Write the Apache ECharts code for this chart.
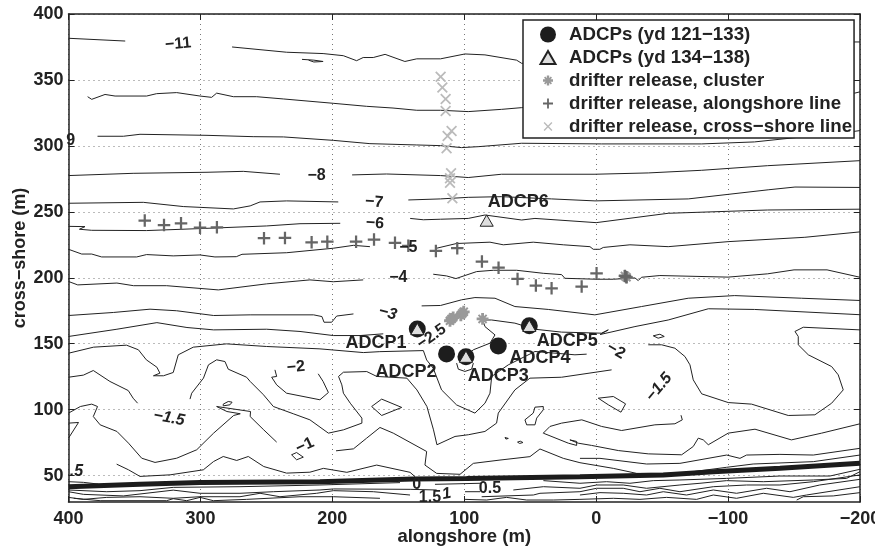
<!DOCTYPE html>
<html>
<head>
<meta charset="utf-8">
<style>
html, body { margin: 0; background: #fff; }
#main { width: 875px; height: 546px; }
</style>
<script src="https://cdn.jsdelivr.net/npm/echarts@6/dist/echarts.min.js"></script>
</head>
<body>
<div id="main"></div>
<script>
// axis ticks
const xTicks = [400, 300, 200, 100, 0, -100, -200];
const yTicks = [50, 100, 150, 200, 250, 300, 350, 400];

// depth contours as [alongshore, cross-shore]
const c11a = [[400,381.6],[357,379.5]];
const c11b = [[276,375],[234.6,371],[207,370],[191.7,368.4],[181.6,364.6],[176.6,367],[169,367],[160,369.4],[145,364],[136,366],[118,366],[99.5,369.7],[84.3,369],[60.3,365],[56.5,362.6],[0,364],[-100,372],[-193,378.8],[-200,378.8]];
const c11c = [[223,365.6],[214,365],[207,364],[214,363.6],[218,365]];
const c10 = [[385.5,337.3],[382.4,335.3],[372.3,339],[364.7,337.8],[340.8,337.8],[333.2,339.6],[318,340.4],[300.3,337.8],[291.5,336.8],[287.7,340],[275,337.3],[257.4,337.3],[237.2,335.6],[199.4,332.3],[174,330],[154,328.7],[136,327],[118,327],[97,326],[71.7,327.7],[56.5,329],[0,334],[-100,337],[-196,340],[-200,341]];
const c9 = [[378,307.3],[358.4,307.3],[345.8,308.8],[295,308],[260,307],[237,306.8],[199.3,304.2],[171.5,301.7],[136,300.7],[118,300.2],[102,298.7],[89.4,299.4],[56.5,302],[-4,301.5],[-80,301.5],[-120,303],[-194,310.8],[-200,311.6]];
const c8a = [[400,277.5],[351,279.2],[295,280],[267.5,280.7],[239.7,278.5]];
const c8b = [[185,278],[159,278.7],[118,277.5],[97,276],[71.7,278.5],[0.9,278.5],[-39.5,279.5],[-80,281.5],[-130,285],[-200,288.8]];
const c7a = [[400,256.5],[343.3,257.2],[313,254],[275,252.2],[262.3,254.5],[254.8,257.5],[234.6,258.3],[195.5,257.5]];
const c7b = [[142.4,259],[118,259.8],[97,261],[71.7,261.5],[33.8,259.8],[0.9,258.3],[-69.8,259.8],[-130.4,266.7],[-150.7,268.8],[-200,268.5]];
const c6a = [[400,239],[387.5,238.8],[391.7,236.8],[382.4,236],[340.8,235.8],[300.3,237.3],[249.8,239.3],[224.5,241],[194,241.3]];
const c6b = [[141,245],[131,244],[118,244.4],[97,245],[84.3,247.6],[56.5,243.8],[46.4,245],[0,241.8],[-54.6,248.9],[-130,251.4],[-200,252]];
const c5a = [[400,221.6],[390,218],[382.4,218],[374.9,215.8],[348.3,215.8],[340.8,217.6],[320.6,216.6],[300.3,217.3],[289,215.8],[272.8,216],[268.5,217.8],[234.6,219],[199.3,222.4],[184,224.6],[171.5,223.6]];
const c5b = [[121,222.4],[105.8,226],[80.5,227],[70.4,225],[47.7,227],[24.9,225],[4.7,223.6],[2.2,221.6],[-2.8,221.6],[-5.4,223],[-25.6,225],[-54.6,223.6],[-100,227.4],[-158.2,230.7],[-200,234.8]];
const c4a = [[400,197.2],[393,194.6],[363.3,196],[350.7,194],[325.6,194],[286.4,190.8],[249.8,195.4],[217,198.4],[199.3,197],[176.6,198.4]];
const c4b = [[123.5,202.7],[113.4,201.4],[106.3,199.4],[90.6,204.7],[78,205.7],[60.3,205.7],[40.1,203.4],[26.2,202.4],[23.7,199.6],[-0.3,198.9],[-13,198.9],[-29.4,199.9],[-31.9,197.9],[-34.4,200.4],[-48.3,201.7],[-100,200.5],[-130,203],[-150,206],[-175,206],[-200,200.4]];
const c3a = [[400,171.4],[366,173.7],[338.2,176.2],[318,175],[290,171.4],[262.3,171.9],[214.2,171.9],[207.9,170.6],[206.3,166.3],[200.5,166.3],[196.7,171],[184,172.6]];
const c3b = [[132.3,178.7],[118,179],[102,183.3],[91.9,185],[76.7,184.5],[61.6,178.2],[36.3,176],[1,171.9],[-34.4,178.2],[-69.8,184.5],[-105,186.5],[-155.7,184.5],[-200,182.8]];
const c25a = [[400,155.5],[363.3,161],[333,166],[310.2,162.3],[290,160.5],[249.8,161],[224.5,159.3],[199.3,156.2],[179,156.2],[161.4,157.5]];
const c25b = [[99.5,140.3],[93.1,145.4],[80.5,150.4],[76.7,156.7],[84.3,163],[86,168],[79.2,168],[61.6,165.6],[46.4,161],[26.2,158.8],[-4,158],[-9.2,160.5],[-3,157],[-12,159],[-29.4,163],[-54.6,168],[-85,176.5],[-120,176],[-200,172]];
const adcp3Loop = [[105.8,135.3],[104.5,130.7],[99.5,129],[94.4,130.7],[93.1,135.3]];
const c2a = [[400,142.8],[381,147.4],[356,148.9],[347,145.4],[341,137.8],[333,132.2],[330.7,127.7],[335.6,125.7],[328,125.7],[320.6,128.2],[316.8,141.6],[305.4,147.4],[280.2,149.9],[249.8,147.9],[209.4,146.1],[176.5,143.3],[164,144],[131,144.8],[128.5,137.7],[123.5,131.4],[117.2,115],[105.8,103.6],[91.9,97.4],[84.3,104.9],[80.5,112.5],[79.2,125.2],[66.6,134],[46.4,144.1],[16.1,141.6],[7.2,142.1]];
const c2b = [[400,124.6],[388.7,126.2],[381.2,129.7],[368.6,121.4],[354.7,114.5],[351,108.7],[347.6,104.9]];
const c2c = [[307.9,108],[306.6,112.5],[297.7,123.9],[293.9,134],[287.7,137.8],[281.4,136.5],[278.9,130.7],[265,124.6],[262.3,121.4],[252.2,111.3],[244.7,102.4],[229.6,96.9],[217,92.3],[203,82.2],[191.6,84.7],[177.6,89.8],[177.6,93.6],[186.4,104.9],[191.6,112.5],[192.8,118.8],[195.3,125.2],[191.6,128.4],[173.9,128.9],[166.3,125.2],[143.5,123.9],[135.9,115],[128.3,102.4],[123.3,84.7],[120.7,73.4],[107,79.7],[96.9,81],[84.3,83.5],[75.5,89.8],[74.2,97.4],[61.6,115],[50.2,123.9],[26.2,124.6],[-11.7,130.2]];
const c2d = [[243.5,130.2],[242.2,125.2],[246,124.6],[242.2,118.8],[234.7,112.5],[209.4,107.5],[203,113],[207,121.4],[210.7,127.2]];
const island1 = [[170.2,102.4],[162.6,108],[147.4,101.7],[162.6,95.6],[170.2,102.4]];
const edgeLoop = [[400,89.8],[392.4,90.3],[400,78.4]];
const c15a = [[400,97.4],[391,102.4],[382.4,104.2],[378,102.4],[381.2,94.8],[376,88.5],[363.3,83.5],[354.5,74.6],[344.5,63.2],[334.4,60],[318,63.2],[302.8,69.6],[290,82.2],[274.8,95.6],[269.8,96.9],[279.9,98.6],[287.7,102.4],[262,98.6],[262.3,94.8],[252,84.7],[242.2,75.4]];
const loop2 = [[282.7,104.2],[278.9,106.2],[276,105.7],[277.6,103.7],[282.7,102.9],[282.7,104.2]];
const loop3 = [[230.9,65.8],[227.1,67.5],[222,64],[227.1,62],[230.9,65.8]];
const c15b = [[197.2,68.8],[184,70.3],[174,78.4],[163.9,86.5],[153.8,82.2],[128.5,68.3],[129.8,58],[120.9,51.7],[103.2,51],[93.1,59.3],[72.9,61.8],[50.2,64.4],[42.6,70.2],[24.9,63.1],[12.3,59.8],[-13,55.5],[-30.7,51.7],[-63.5,51.7],[-98.9,56.3],[-119,58.8],[-164.6,60.6],[-200,65.6]];
const c1a = [[363.5,58.7],[354.5,54.4],[345.8,49.4],[323,50.6],[297.8,54.4],[290,60.7],[282.7,64.5],[272.5,61.5],[263.7,64.5],[252,56.9],[234.7,51.9],[217,52.6],[206.8,55.5],[189,52.5],[166.4,58],[141.1,52.5],[137.3,49.2]];
const c1b = [[-64.3,95.8],[-65.3,92.3],[-59.7,89.3],[-44.5,88.5],[-19.3,84.2],[-4.1,87.3],[10.9,92.3],[26.2,89.8],[35,87.3],[40.1,82.2],[21.1,74.6],[14.8,72.9],[14.8,75.9],[19.9,77.1],[13.6,74.6],[3.5,72.9],[-16.8,69],[-39.5,66.5],[-64.8,65.8],[-73.6,72.1],[-77.4,78.4],[-81.2,77.1],[-85,73.4],[-100.1,82.2],[-120.4,85.2],[-148,77.1],[-170.9,82.2],[-200,89.3]];
const c1c = [[12.3,63.1],[-2.9,63.1],[-38.2,58.8],[-63.5,59.3],[-98.9,65.6],[-109,63.1],[-114,65.6],[-139.3,66.1],[-164.6,65.6],[-200,70.7]];
const c2e = [[-39.5,149.2],[-49.6,149.2],[-59.7,146.6],[-67.3,140.3],[-71.1,134],[-73.6,122.6],[-80,112],[-100.1,105.4],[-117.8,104.2],[-145.6,95.6],[-165.8,96.1],[-178.5,104.9],[-187.3,115],[-183.5,126.4],[-178.5,132.7],[-160.8,141.6],[-153.2,149.2],[-153.2,155.5],[-150.7,159.3],[-157,162.5],[-200,160.5]];
const island2 = [[-43.3,156],[-48.3,157.2],[-51.6,155.5],[-47,154.2],[-43.3,156]];
const island3 = [[-1.6,108.7],[-13,110],[-22.3,104.4],[-18.8,98.1],[-9.2,103.7],[-1.6,108.7]];
const island4 = [[46.4,101.9],[40.1,102.4],[40.1,99.9],[45.1,93.6],[46.4,88.5],[52.7,88.5],[54,92.3],[47.7,97.4],[46.4,101.9]];
const island5 = [[69.1,78.9],[66.6,78.2],[68.4,77.7],[69.1,78.9]];
const island6 = [[59.6,75.4],[57.5,76.1],[55.5,75.1],[58,74.4],[59.6,75.4]];

// the shoreline, heavy line
const shoreline = [[400,41.6],[345.8,43.4],[300.3,44.7],[209.4,45.4],[138.6,47.4],[98.2,47.9],[12.3,49.2],[-50.9,50.5],[-88.8,53],[-139.3,55.5],[-200,59.3]];

// beach contours below the shoreline
const b1 = [[400,45.4],[388.7,44.9],[377.4,43.6]];
const b2 = [[400,39.1],[371,37.8],[345.8,38.6],[320.6,41.1],[270,41.6],[209.4,42.9],[148.7,44.7]];
const b3 = [[400,37.8],[388.7,35.8],[358.4,34.6],[320.6,39],[300.3,36.6],[270,36.6],[244.7,37.8],[209.4,39.1],[199.2,39.9],[141,39.6],[120.9,39.1]];
const b4 = [[400,33.5],[388.7,32],[371,33.5],[345.8,34],[320.6,32.8],[300.3,34],[270,34],[254.8,36.6],[239.7,34],[211.9,36.6],[199.2,38.6],[168.9,37.8],[141.1,35.3]];
const b5 = [[396,32.8],[376,31],[325.6,31],[320.6,32.5],[310.4,31],[300.3,33.5],[290.2,31],[265,32],[224.5,34],[199.2,34],[163.9,32.8]];
const b6 = [[122.2,43.4],[88,44.2]];
const b7 = [[99.4,37.8],[88,37.8]];
const b8 = [[86.8,34],[47.6,35.3],[42.6,36.6],[12.3,37.8],[-0.3,40.4],[-20.5,40.4],[-33.2,37.8],[-48.3,40.4],[-63.5,37.8],[-88.8,41.6],[-114,42.9],[-139.3,42.9],[-164.6,45.4],[-200,50.5]];
const b9 = [[99.4,32],[83,31.5],[67.9,33.5],[52.7,31.5],[32.5,31.5],[12.3,32],[-13,32.8],[-33.2,32],[-53.4,33.5],[-76.1,32],[-88.8,35.3],[-106.4,32.8],[-126.7,36.6],[-149.4,33.5],[-159.5,35.3],[-200,41.6]];
const b10 = [[62.8,39.1],[40,41.6],[12.3,40.4],[-0.3,42.9],[-20.5,42.9],[-38.2,40.4],[-63.5,42.9],[-78.7,44.2],[-98.9,46.2],[-126.7,45.4],[-164.6,46.7],[-189.8,47.9],[-200,53]];
const b11 = [[40,46.2],[12.3,44.2],[-7.9,45.4],[-25.6,44.2],[-43.3,46.2],[-63.5,46.7],[-98.9,47.9],[-139.3,49.7],[-177.2,49.7],[-200,54.8]];
const b12 = [[12.3,35.3],[-2.9,37.1],[-20.5,36.6],[-38.2,35.3],[-50.9,37.8],[-68.5,35.3],[-88.8,39.1],[-106.4,36.6],[-129.2,40.4],[-146.9,37.8],[-169.5,42.9],[-200,47.2]];
const b13 = [[-152,31.5],[-157,34],[-179.7,34.6],[-200,37.1]];
const contourLines = [c11a,c11b,c11c,c10,c9,c8a,c8b,c7a,c7b,c6a,c6b,c5a,c5b,c4a,c4b,c3a,c3b,c25a,c25b,adcp3Loop,c2a,c2b,c2c,c2d,island1,edgeLoop,c15a,loop2,loop3,c15b,c1a,c1b,c1c,c2e,island2,island3,island4,island5,island6,b1,b2,b3,b4,b5,b6,b7,b8,b9,b10,b11,b12,b13];

// instruments and drifter releases
const adcpEarly = [[135.6,161.2],[113.4,142.3],[98.7,140.2],[74.2,148.3],[50.7,163.6]];
const adcpLate = [[135.6,161.2],[98.7,140.2],[50.7,163.6],[83,243.4]];
const releaseCluster = [[109.6,168.8],[110.8,167.4],[108.4,170],[101.5,173],[102.6,171.6],[100.4,174.2],[86.1,168.8],[-21.8,201.4],[-23,200.4]];
const releaseAlong = [[342.2,243.4],[327.6,240],[314.7,241.3],[300.3,238],[287.5,238.3],[251.8,230],[235.9,230.2],[215.7,226.9],[203.8,227.4],[182,227.4],[168.4,229],[152.5,226.5],[142.4,224.2],[121.5,220.4],[105.3,222.4],[86.6,212.3],[74,207.7],[59.6,199.1],[45.7,194.1],[33.8,192],[11,193.3],[-0.3,203.4],[-21.8,201.4],[-23,200.4]];
const releaseCross = [[117.9,352.5],[116.6,344.2],[114.1,335.6],[114.1,326.5],[109.6,311.3],[112.6,307.5],[113.4,298.2],[110,279.2],[110.8,275.4],[110.8,272],[109,260.3]];

// text placed on the chart
const adcpNames = [[166.9,150.8,'ADCP1'],[144.2,128.9,'ADCP2'],[74.2,125.6,'ADCP3'],[42.6,139.5,'ADCP4'],[21.9,152.4,'ADCP5'],[59,257.3,'ADCP6']];
const contourNames = [[316.8,377.3,'−11'],[398.4,304,'9'],[211.9,277.5,'−8'],[168.2,257.3,'−7'],[167.7,241.3,'−6'],[142.4,223.1,'−5'],[150,200.4,'−4'],[158,173.2,'−3'],[124.7,155.4,'−2.5'],[227.6,132.2,'−2'],[-15,144.6,'−2'],[323.8,93.6,'−1.5'],[-47.6,117,'−1.5'],[220.8,72.8,'−1'],[394,53,'.5'],[136,43,'0'],[126,33,'1.5'],[113.4,36.2,'1'],[80.5,39.8,'0.5']];
const contourNameTurn = [5,0,0,-5,-5,0,0,-15,35,5,-30,-10,50,25,0,0,0,10,0];
const contourNameItalic = ['−3','−1.5','1','.5'];

const fontFamily = '"Liberation Sans", Arial, sans-serif';
const ink = '#222';

// symbols keep empty corners so the same box works for legend and plot
const plusPath = 'path://M0 0L0 0ZM16 16L16 16ZM7.1 3H8.9V7.1H13V8.9H8.9V13H7.1V8.9H3V7.1H7.1Z';
const crossPath = 'path://M0 0L0 0ZM16 16L16 16ZM3.6 4.6L4.6 3.6L8 7L11.4 3.6L12.4 4.6L9 8L12.4 11.4L11.4 12.4L8 9L4.6 12.4L3.6 11.4L7 8Z';
const starPath = 'path://M0 0L0 0ZM16 16L16 16ZM6.8 3H9.2V6.8H13V9.2H9.2V13H6.8V9.2H3V6.8H6.8ZM4 5.2L5.2 4L8 6.8L10.8 4L12 5.2L9.2 8L12 10.8L10.8 12L8 9.2L5.2 12L4 10.8L6.8 8Z';
const trianglePath = 'path://M0 0L0 0ZM16 16L16 16ZM8 1.5L15.5 14.5L0.5 14.5Z';

const series = [];

contourLines.forEach(function (line) {
    series.push({
        type: 'line',
        data: line,
        symbol: 'none',
        silent: true,
        z: 2,
        lineStyle: { color: ink, width: 1 }
    });
});

series.push({
    type: 'line',
    data: shoreline,
    symbol: 'none',
    silent: true,
    z: 3,
    lineStyle: { color: '#1c1c1c', width: 5 }
});

series.push({
    name: 'ADCPs (yd 121−133)',
    type: 'scatter',
    data: adcpEarly,
    symbol: 'circle',
    symbolSize: 17,
    z: 5,
    itemStyle: { color: '#1d1d1d', opacity: 1 }
});
series.push({
    name: 'ADCPs (yd 134−138)',
    type: 'scatter',
    data: adcpLate,
    symbol: trianglePath,
    symbolSize: 14,
    z: 6,
    itemStyle: { color: '#dedede', borderColor: '#222', borderWidth: 1, opacity: 1 }
});
series.push({
    name: 'drifter release, cluster',
    type: 'scatter',
    data: releaseCluster,
    symbol: starPath,
    symbolSize: 19,
    z: 5,
    itemStyle: { color: '#999', opacity: 1 }
});
series.push({
    name: 'drifter release, alongshore line',
    type: 'scatter',
    data: releaseAlong,
    symbol: plusPath,
    symbolSize: 20,
    z: 5,
    itemStyle: { color: '#666', opacity: 1 }
});
series.push({
    name: 'drifter release, cross−shore line',
    type: 'scatter',
    data: releaseCross,
    symbol: crossPath,
    symbolSize: 20,
    z: 5,
    itemStyle: { color: '#bbb', opacity: 1 }
});

// text only series for the instrument names and the contour values
series.push({
    type: 'scatter',
    symbolSize: 1,
    silent: true,
    z: 7,
    clip: false,
    itemStyle: { color: 'transparent', opacity: 1 },
    data: adcpNames.map(function (n) {
        return {
            value: [n[0], n[1]],
            label: {
                show: true, position: 'inside', formatter: n[2],
                fontFamily: fontFamily, fontWeight: 'bold', fontSize: 18, color: ink
            }
        };
    })
});
series.push({
    type: 'scatter',
    symbolSize: 1,
    silent: true,
    z: 7,
    clip: false,
    itemStyle: { color: 'transparent', opacity: 1 },
    data: contourNames.map(function (n, i) {
        return {
            value: [n[0], n[1]],
            label: {
                show: true, position: 'inside', formatter: n[2],
                rotate: contourNameTurn[i],
                fontStyle: contourNameItalic.indexOf(n[2]) >= 0 ? 'italic' : 'normal',
                fontFamily: fontFamily, fontWeight: 'bold', fontSize: 16, color: ink
            }
        };
    })
});

const axisBase = {
    axisLine: { show: true, onZero: false, lineStyle: { color: ink, width: 1.5 } },
    splitLine: { show: false }
};
const tickFont = { fontFamily: fontFamily, fontWeight: 'bold', fontSize: 18, color: ink };
const tickMarks = { color: ink, width: 1 };
const gridDots = { color: '#777', width: 1, type: [1, 4] };

var option = {
    animation: false,
    backgroundColor: '#fff',
    grid: { left: 68.5, right: 15, top: 14, bottom: 44, outerBoundsMode: 'none' },
    legend: {
        data: [
            'ADCPs (yd 121−133)',
            'ADCPs (yd 134−138)',
            'drifter release, cluster',
            'drifter release, alongshore line',
            'drifter release, cross−shore line'
        ],
        orient: 'vertical',
        left: 523,
        top: 20,
        padding: [5, 2, 2, 16],
        itemWidth: 32,
        itemHeight: 16,
        itemGap: 4,
        selectedMode: false,
        backgroundColor: '#fff',
        borderColor: ink,
        borderWidth: 1.5,
        borderRadius: 0,
        z: 10,
        textStyle: { fontFamily: fontFamily, fontWeight: 'bold', fontSize: 18.7, color: ink }
    },
    xAxis: [
        Object.assign({}, axisBase, {
            type: 'value',
            inverse: true,
            min: -200,
            max: 400,
            name: 'alongshore (m)',
            nameLocation: 'middle',
            nameGap: 25,
            nameMoveOverlap: false,
            nameTextStyle: { fontFamily: fontFamily, fontWeight: 'bold', fontSize: 18.5, color: ink },
            axisTick: { show: true, inside: true, length: 6, customValues: xTicks, lineStyle: tickMarks },
            axisLabel: Object.assign({
                margin: 8,
                customValues: xTicks,
                formatter: function (v) { return String(v).replace('-', '−'); }
            }, tickFont),
            splitLine: { show: true, lineStyle: gridDots }
        }),
        Object.assign({}, axisBase, {
            type: 'value',
            inverse: true,
            position: 'top',
            min: -200,
            max: 400,
            axisTick: { show: true, inside: true, length: 6, customValues: xTicks, lineStyle: tickMarks },
            axisLabel: { show: false, customValues: xTicks }
        })
    ],
    yAxis: [
        Object.assign({}, axisBase, {
            type: 'value',
            min: 30,
            max: 400,
            name: 'cross−shore (m)',
            nameLocation: 'middle',
            nameGap: 39.5,
            nameMoveOverlap: false,
            nameTextStyle: { fontFamily: fontFamily, fontWeight: 'bold', fontSize: 18, color: ink },
            axisTick: { show: true, inside: true, length: 6, customValues: yTicks, lineStyle: tickMarks },
            axisLabel: Object.assign({ margin: 5, customValues: yTicks }, tickFont),
            splitLine: { show: true, lineStyle: gridDots }
        }),
        Object.assign({}, axisBase, {
            type: 'value',
            position: 'right',
            min: 30,
            max: 400,
            axisTick: { show: true, inside: true, length: 6, customValues: yTicks, lineStyle: tickMarks },
            axisLabel: { show: false, customValues: yTicks }
        })
    ],
    series: series
};

var myChart = echarts.init(document.getElementById('main'), null, { renderer: 'canvas' });
myChart.setOption(option);
</script>
</body>
</html>
